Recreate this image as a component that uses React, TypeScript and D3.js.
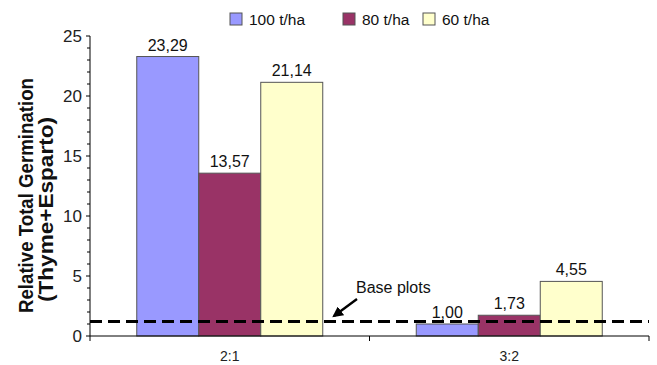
import React from "react";
import * as d3 from "d3";

const categories = ["2:1", "3:2"];
const seriesNames = ["100 t/ha", "80 t/ha", "60 t/ha"];
const values100 = [23.29, 1.0];
const values80 = [13.57, 1.73];
const values60 = [21.14, 4.55];
const yTicks = [0, 5, 10, 15, 20, 25];
const baseLevel = 1.2;
const colors = ["#9999FF", "#993366", "#FFFFCC"];

export default function App() {
  const W = 657, H = 365;
  const left = 90, right = 649, top = 36, bottom = 336;
  const x = d3.scaleBand<string>().domain(categories).range([left, right]).paddingInner(0).paddingOuter(0);
  const y = d3.scaleLinear().domain([0, 25]).range([bottom, top]);
  const groupW = 186;
  const xs = d3.scaleBand<string>().domain(seriesNames).range([0, groupW]).padding(0);
  const series = [values100, values80, values60];
  const minor = d3.range(0, 26, 1);
  const fmt = (v: number) => v.toFixed(2).replace(".", ",");
  const font = "Arial, 'Liberation Sans', sans-serif";
  return (
    <svg width={W} height={H} style={{ position: "absolute", left: 0, top: 0 }} fontFamily={font}>
      <defs>
        <marker id="ah" viewBox="0 0 10 10" refX="8" refY="5" markerWidth="4.5" markerHeight="4.5" orient="auto">
          <path d="M0,0 L10,5 L0,10 z" fill="#000" />
        </marker>
      </defs>
      {/* bars */}
      {categories.map((c, ci) => {
        const gx = (x(c) as number) + (x.bandwidth() - groupW) / 2;
        return series.map((s, si) => {
          const bx = gx + (xs(seriesNames[si]) as number);
          const v = s[ci];
          return (
            <g key={c + si}>
              <rect x={bx} y={y(v)} width={xs.bandwidth()} height={bottom - y(v)} fill={colors[si]} stroke="#555" strokeWidth={1} />
              <text x={bx + xs.bandwidth() / 2} y={y(v) - 6} textAnchor="middle" fontSize={16} fill="#111">{fmt(v)}</text>
            </g>
          );
        });
      })}
      {/* axes */}
      <line x1={left} x2={left} y1={top} y2={bottom} stroke="#000" strokeWidth={1} />
      {minor.map((t) => (
        <line key={"m" + t} x1={left - (t % 5 === 0 ? 4 : 3)} x2={left} y1={y(t)} y2={y(t)} stroke="#000" strokeWidth={1} />
      ))}
      {yTicks.map((t) => (
        <text key={"t" + t} x={left - 8} y={y(t) + 6} textAnchor="end" fontSize={17} fill="#222">{t}</text>
      ))}
      <line x1={left} x2={right} y1={bottom} y2={bottom} stroke="#000" strokeWidth={1} />
      {[left, ...categories.map((c) => (x(c) as number) + x.bandwidth())].map((p, i) => (
        <line key={"xt" + i} x1={p} x2={p} y1={bottom} y2={bottom + 5} stroke="#000" strokeWidth={1} />
      ))}
      {categories.map((c) => (
        <text key={"xl" + c} x={(x(c) as number) + x.bandwidth() / 2} y={361} textAnchor="middle" fontSize={14} fill="#222">{c}</text>
      ))}
      {/* y title */}
      <text transform={`translate(33,195.5) rotate(-90)`} textAnchor="middle" fontSize={21} fontWeight="bold" fill="#111" textLength={235} lengthAdjust="spacingAndGlyphs">Relative Total Germination</text>
      <text transform={`translate(53,209.5) rotate(-90)`} textAnchor="middle" fontSize={21} fontWeight="bold" fill="#111" textLength={185} lengthAdjust="spacingAndGlyphs">(Thyme+Esparto)</text>
      {/* base line */}
      <line x1={left} x2={right} y1={y(baseLevel)} y2={y(baseLevel)} stroke="#000" strokeWidth={3} strokeDasharray="12,6" />
      <text x={356} y={293} fontSize={16} fill="#111">Base plots</text>
      <line x1={357} x2={334} y1={299} y2={316} stroke="#000" strokeWidth={2.4} markerEnd="url(#ah)" />
      {/* legend */}
      {seriesNames.map((n, i) => {
        const lx = [230, 343, 423][i];
        return (
          <g key={"lg" + i}>
            <rect x={lx} y={13} width={12} height={12} fill={colors[i]} stroke="#555" strokeWidth={1} />
            <text x={lx + 19} y={24.5} fontSize={15.5} fill="#111">{n}</text>
          </g>
        );
      })}
    </svg>
  );
}
